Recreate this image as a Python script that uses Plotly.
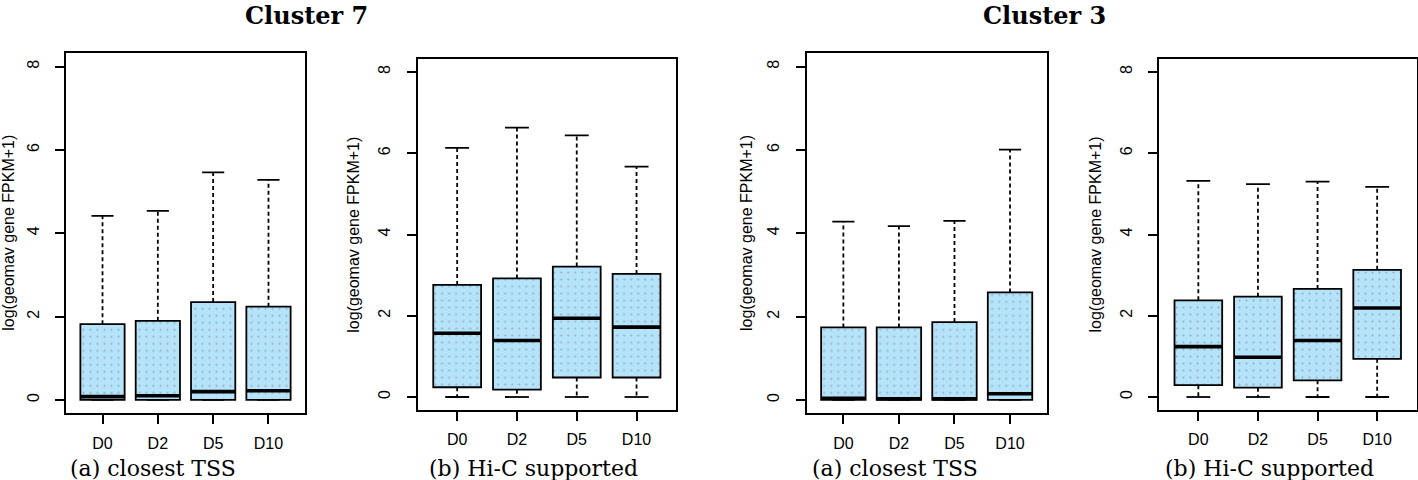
import plotly.graph_objects as go

W, H = 1418, 480

categories = ["D0", "D2", "D5", "D10"]
y_ticks = [0, 2, 4, 6, 8]

# Cluster 7 - closest TSS
c7_tss_lower = [0, 0, 0, 0]
c7_tss_q1 = [0, 0, 0, 0]
c7_tss_median = [0.08, 0.10, 0.20, 0.22]
c7_tss_q3 = [1.82, 1.90, 2.35, 2.24]
c7_tss_upper = [4.42, 4.54, 5.46, 5.28]

# Cluster 7 - Hi-C supported
c7_hic_lower = [0, 0, 0, 0]
c7_hic_q1 = [0.24, 0.18, 0.48, 0.48]
c7_hic_median = [1.57, 1.39, 1.94, 1.72]
c7_hic_q3 = [2.76, 2.92, 3.21, 3.03]
c7_hic_upper = [6.13, 6.63, 6.44, 5.67]

# Cluster 3 - closest TSS
c3_tss_lower = [0, 0, 0, 0]
c3_tss_q1 = [0, 0, 0, 0]
c3_tss_median = [0.04, 0.03, 0.03, 0.15]
c3_tss_q3 = [1.74, 1.74, 1.87, 2.58]
c3_tss_upper = [4.28, 4.17, 4.30, 6.01]

# Cluster 3 - Hi-C supported
c3_hic_lower = [0, 0, 0, 0]
c3_hic_q1 = [0.29, 0.23, 0.41, 0.94]
c3_hic_median = [1.24, 0.98, 1.39, 2.19]
c3_hic_q3 = [2.38, 2.47, 2.66, 3.13]
c3_hic_upper = [5.32, 5.24, 5.30, 5.17]

titles = ["Cluster 7", "Cluster 3"]
captions = ["(a) closest TSS", "(b) Hi-C supported", "(a) closest TSS", "(b) Hi-C supported"]
y_title = "log(geomav gene FPKM+1)"

panels = [
    (c7_tss_lower, c7_tss_q1, c7_tss_median, c7_tss_q3, c7_tss_upper),
    (c7_hic_lower, c7_hic_q1, c7_hic_median, c7_hic_q3, c7_hic_upper),
    (c3_tss_lower, c3_tss_q1, c3_tss_median, c3_tss_q3, c3_tss_upper),
    (c3_hic_lower, c3_hic_q1, c3_hic_median, c3_hic_q3, c3_hic_upper),
]

# panel plot-box pixel extents (left, right, top, bottom)
boxes_px = [
    (66, 305, 53.3, 413.3),
    (417.7, 676, 59, 410),
    (806.7, 1046.7, 53.3, 413.3),
    (1159, 1416.5, 59, 410),
]
ylabel_x_px = [8.5, 353.3, 746.7, 1095]
caption_x_px = [152.5, 533, 894.5, 1269.5]
title_x_px = [306, 1044.7]

BOX_W = 0.8
CAP_W = 0.4
FILL = "rgb(180,227,250)"

fig = go.Figure()
layout = dict(
    width=W, height=H,
    margin=dict(l=0, r=0, t=0, b=0),
    paper_bgcolor="white", plot_bgcolor="white",
    showlegend=False,
    annotations=[],
)

pos = [i + 1 for i in range(len(categories))]

for k, (lo, q1, med, q3, up) in enumerate(panels):
    xa = "x" if k == 0 else f"x{k+1}"
    ya = "y" if k == 0 else f"y{k+1}"
    # box bodies
    fig.add_trace(go.Bar(
        x=pos, y=[b - a for a, b in zip(q1, q3)], base=q1, width=BOX_W,
        marker=dict(color=FILL, line=dict(color="black", width=1.8),
                    pattern=dict(shape=".", fgcolor="rgba(110,110,130,0.9)",
                                 bgcolor=FILL, size=7, solidity=0.07)),
        xaxis=xa, yaxis=ya, hoverinfo="skip",
    ))
    # whiskers (dashed)
    wx, wy = [], []
    for p, a, b, c, d in zip(pos, lo, q1, q3, up):
        wx += [p, p, None, p, p, None]
        wy += [c, d, None, b, a, None]
    fig.add_trace(go.Scatter(x=wx, y=wy, mode="lines",
                             line=dict(color="black", width=1.8, dash="4px,3px"),
                             xaxis=xa, yaxis=ya, hoverinfo="skip"))
    # caps
    cx, cy = [], []
    for p, a, d in zip(pos, lo, up):
        cx += [p - CAP_W / 2, p + CAP_W / 2, None, p - CAP_W / 2, p + CAP_W / 2, None]
        cy += [d, d, None, a, a, None]
    fig.add_trace(go.Scatter(x=cx, y=cy, mode="lines",
                             line=dict(color="black", width=1.8),
                             xaxis=xa, yaxis=ya, hoverinfo="skip"))
    # medians
    mx, my = [], []
    for p, m in zip(pos, med):
        mx += [p - BOX_W / 2, p + BOX_W / 2, None]
        my += [m, m, None]
    fig.add_trace(go.Scatter(x=mx, y=my, mode="lines",
                             line=dict(color="black", width=3.6),
                             xaxis=xa, yaxis=ya, hoverinfo="skip"))

    l, r, t, b = boxes_px[k]
    axfont = dict(family="Liberation Sans, Arial, sans-serif", size=16, color="black")
    xkey = "xaxis" if k == 0 else f"xaxis{k+1}"
    ykey = "yaxis" if k == 0 else f"yaxis{k+1}"
    layout[xkey] = dict(
        domain=[l / W, r / W], anchor=ya, range=[0.34, 4.66],
        tickvals=pos, ticktext=categories, ticks="outside", ticklen=9,
        tickwidth=1.8, tickcolor="black", showline=True, mirror=True,
        linecolor="black", linewidth=2, showgrid=False, zeroline=False,
        tickfont=axfont, ticklabelstandoff=5, fixedrange=True,
    )
    layout[ykey] = dict(
        domain=[1 - b / H, 1 - t / H], anchor=xa, range=[-0.32, 8.32],
        tickvals=y_ticks, ticks="outside", ticklen=9, tickwidth=1.8,
        tickcolor="black", showline=True, mirror=True, linecolor="black",
        linewidth=2, showgrid=False, zeroline=False, tickangle=-90,
        tickfont=axfont, ticklabelstandoff=10, fixedrange=True,
    )
    # y-axis title
    layout["annotations"].append(dict(
        text=y_title, x=ylabel_x_px[k] / W, y=1 - ((t + b) / 2) / H,
        xref="paper", yref="paper", textangle=-90, showarrow=False,
        xanchor="center", yanchor="middle",
        font=dict(family="Liberation Sans, Arial, sans-serif", size=16, color="black"),
    ))
    # caption
    layout["annotations"].append(dict(
        text=captions[k], x=caption_x_px[k] / W, y=1 - 468 / H,
        xref="paper", yref="paper", showarrow=False,
        xanchor="center", yanchor="middle",
        font=dict(family="DejaVu Serif, serif", size=22, color="black"),
    ))

for j, tt in enumerate(titles):
    layout["annotations"].append(dict(
        text="<b>" + tt + "</b>", x=title_x_px[j] / W, y=1,
        xref="paper", yref="paper", showarrow=False, borderpad=0,
        xanchor="center", yanchor="top",
        font=dict(family="DejaVu Serif, serif", size=24, color="black"),
    ))

fig.update_layout(**layout)
fig.write_html("out.html", config={"displayModeBar": False},
               post_script="document.body.style.margin='0';document.body.style.overflow='hidden';")
